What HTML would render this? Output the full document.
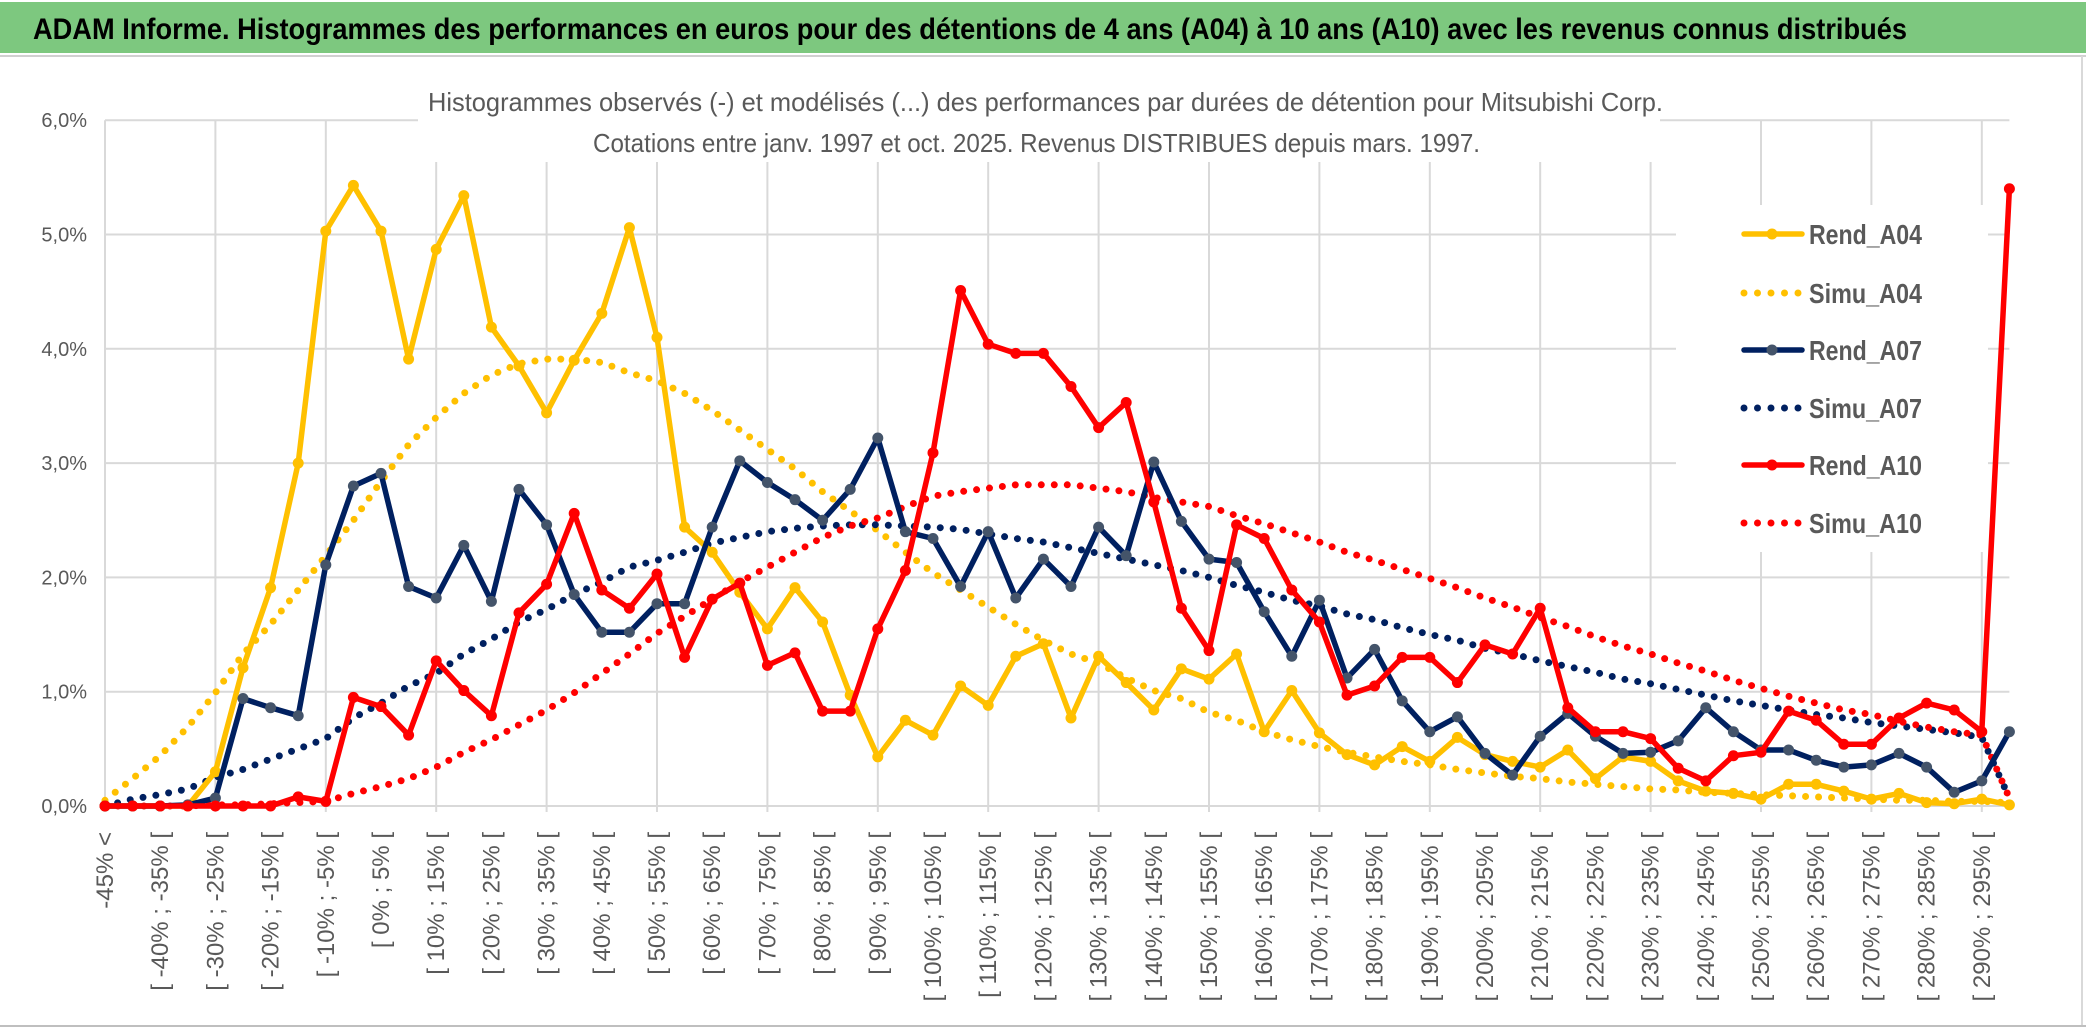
<!DOCTYPE html>
<html><head><meta charset="utf-8"><style>
html,body{margin:0;padding:0;background:#fff;width:2086px;height:1033px;overflow:hidden}
svg text{font-family:"Liberation Sans Narrow","Liberation Sans",sans-serif}
</style></head><body>
<svg id="chart" width="2086" height="1033" xmlns="http://www.w3.org/2000/svg">
<rect x="0" y="2" width="2086" height="51" fill="#7dc87f"/>
<line x1="0" y1="56" x2="2086" y2="56" stroke="#d0d0d0" stroke-width="2"/>
<text x="33" y="39" font-size="30" font-weight="bold" fill="#000" textLength="1874" lengthAdjust="spacingAndGlyphs">ADAM Informe. Histogrammes des performances en euros pour des détentions de 4 ans (A04) à 10 ans (A10) avec les revenus connus distribués</text>
<line x1="2082" y1="56" x2="2082" y2="1026" stroke="#d9d9d9" stroke-width="2"/>
<line x1="0" y1="1026" x2="2086" y2="1026" stroke="#bfbfbf" stroke-width="2"/>
<g id="grid"></g>
<rect x="418" y="84" width="1242" height="78" fill="#fff"/>
<text x="428" y="111" font-size="26" fill="#595959" textLength="1235" lengthAdjust="spacingAndGlyphs">Histogrammes observés (-) et modélisés (...) des performances par durées de détention pour Mitsubishi Corp.</text>
<text x="593" y="152" font-size="26" fill="#595959" textLength="887" lengthAdjust="spacingAndGlyphs">Cotations entre janv. 1997 et oct. 2025. Revenus DISTRIBUES depuis mars. 1997.</text>
<rect x="1676" y="205" width="312" height="347" fill="#fff"/>
<g id="ylabels"></g>
<g id="xlabels"></g>
<g id="series"></g>
<g id="legend"></g>
</svg>
<script>
const categories = (function(){const c=["-45% <"];for(let v=-45;v<300;v+=5)c.push("[ "+v+"% ; "+(v+5)+"% [");return c;})();
const yTicks = [0,1,2,3,4,5,6];
const yTickLabels = ["0,0%","1,0%","2,0%","3,0%","4,0%","5,0%","6,0%"];
const rendA04 = [0,0,0,0,0.30,1.21,1.91,3.0,5.03,5.43,5.03,3.91,4.87,5.34,4.19,3.85,3.44,3.9,4.31,5.06,4.10,2.44,2.22,1.87,1.55,1.91,1.61,0.97,0.43,0.75,0.62,1.05,0.88,1.31,1.42,0.77,1.31,1.08,0.84,1.20,1.11,1.33,0.65,1.01,0.64,0.45,0.36,0.52,0.39,0.60,0.45,0.39,0.34,0.49,0.24,0.43,0.39,0.22,0.13,0.11,0.06,0.19,0.19,0.13,0.06,0.11,0.03,0.02,0.06,0.01];
const simuA04 = [0.05,0.24,0.44,0.69,0.99,1.33,1.59,1.89,2.19,2.50,2.84,3.16,3.40,3.61,3.77,3.87,3.91,3.91,3.88,3.79,3.72,3.61,3.46,3.29,3.12,2.95,2.75,2.58,2.41,2.22,2.04,1.89,1.74,1.59,1.45,1.33,1.25,1.12,1.01,0.94,0.82,0.75,0.65,0.58,0.52,0.47,0.43,0.39,0.36,0.32,0.29,0.26,0.24,0.21,0.19,0.17,0.15,0.14,0.12,0.11,0.10,0.09,0.08,0.07,0.06,0.05,0.05,0.04,0.04,0.03];
const rendA07 = [0,0,0,0.01,0.07,0.94,0.86,0.79,2.11,2.80,2.91,1.92,1.82,2.28,1.79,2.77,2.46,1.85,1.52,1.52,1.77,1.77,2.44,3.02,2.83,2.68,2.50,2.77,3.22,2.40,2.34,1.92,2.40,1.82,2.16,1.92,2.44,2.19,3.01,2.49,2.16,2.13,1.70,1.31,1.80,1.12,1.37,0.92,0.65,0.78,0.46,0.27,0.61,0.81,0.61,0.46,0.47,0.57,0.86,0.65,0.49,0.49,0.40,0.34,0.36,0.46,0.34,0.12,0.22,0.65];
const simuA07 = [0.0,0.06,0.10,0.15,0.25,0.32,0.41,0.50,0.59,0.77,0.90,1.05,1.16,1.33,1.46,1.61,1.72,1.85,1.96,2.09,2.15,2.22,2.30,2.35,2.40,2.43,2.45,2.46,2.46,2.45,2.44,2.42,2.38,2.34,2.31,2.26,2.21,2.16,2.11,2.06,2.00,1.93,1.87,1.80,1.75,1.68,1.63,1.56,1.50,1.45,1.38,1.33,1.27,1.22,1.17,1.11,1.07,1.02,0.97,0.92,0.88,0.84,0.80,0.77,0.73,0.70,0.67,0.64,0.60,0.07];
const rendA10 = [0,0,0,0,0,0,0,0.08,0.04,0.95,0.87,0.62,1.27,1.01,0.79,1.69,1.94,2.56,1.89,1.73,2.03,1.30,1.81,1.95,1.23,1.34,0.83,0.83,1.55,2.06,3.09,4.51,4.04,3.96,3.96,3.67,3.31,3.53,2.66,1.73,1.36,2.46,2.34,1.89,1.61,0.97,1.05,1.30,1.30,1.08,1.41,1.33,1.73,0.86,0.65,0.65,0.59,0.33,0.22,0.44,0.47,0.83,0.75,0.54,0.54,0.77,0.90,0.84,0.65,5.40];
const simuA10 = [0,0,0,0,0.01,0.01,0.02,0.03,0.04,0.11,0.17,0.24,0.34,0.47,0.58,0.71,0.84,0.99,1.16,1.33,1.51,1.66,1.81,1.96,2.09,2.22,2.35,2.45,2.52,2.62,2.71,2.75,2.78,2.81,2.81,2.81,2.78,2.75,2.70,2.66,2.62,2.54,2.47,2.39,2.31,2.22,2.15,2.07,1.99,1.91,1.82,1.74,1.65,1.57,1.48,1.40,1.33,1.25,1.18,1.10,1.03,0.96,0.90,0.84,0.80,0.74,0.69,0.65,0.62,0.07];

const NS="http://www.w3.org/2000/svg";
const X0=105, DX=27.6, Y0=806, DY=114.3;
function xs(i){return X0+DX*i;}
function ys(v){return Y0-DY*v;}
function mk(tag,attrs,parent){const e=document.createElementNS(NS,tag);for(const k in attrs)e.setAttribute(k,attrs[k]);parent.appendChild(e);return e;}

const grid=document.getElementById('grid');
const xEnd=xs(categories.length-1);
yTicks.forEach((t,k)=>{
  const l=mk('line',{x1:X0,x2:xEnd,y1:ys(t),y2:ys(t),stroke:'#d9d9d9','stroke-width':2},grid);
  
  
  const tx=mk('text',{x:87,y:ys(t)+7,'font-size':20,fill:'#595959','text-anchor':'end'},document.getElementById('ylabels'));
  tx.textContent=yTickLabels[k];
  
  
});
for(let i=0;i<categories.length;i+=4){
  const l=mk('line',{x1:xs(i),x2:xs(i),y1:ys(6),y2:Y0+6,stroke:'#d9d9d9','stroke-width':2},grid);
  
  
}
const xl=document.getElementById('xlabels');
for(let i=0;i<categories.length;i+=2){
  const t=mk('text',{transform:`translate(${xs(i)+8},832) rotate(-90)`,'font-size':24,fill:'#595959','text-anchor':'end'},xl);
  t.textContent=categories[i];
  
  
}
const sg=document.getElementById('series');
function pts(arr){return arr.map((v,i)=>xs(i).toFixed(1)+','+ys(v).toFixed(1)).join(' ');}
function dotted(arr,color,name){
  const p=mk('polyline',{points:pts(arr),fill:'none',stroke:color,'stroke-width':7,'stroke-linecap':'round','stroke-dasharray':'0 13'},sg);
  
  
}
function solid(arr,color,mcolor,name){
  const g=mk('g',{},sg);
  
  
  mk('polyline',{points:pts(arr),fill:'none',stroke:color,'stroke-width':5.5,'stroke-linejoin':'round'},g);
  arr.forEach((v,i)=>{
    const c=mk('circle',{cx:xs(i),cy:ys(v),r:5.5,fill:mcolor},g);
    
    
  });
}
dotted(simuA04,'#ffc000','simu-a04-line');
dotted(simuA07,'#002060','simu-a07-line');
dotted(simuA10,'#ff0000','simu-a10-line');
solid(rendA04,'#ffc000','#ffc000','rend-a04-line');
solid(rendA07,'#002060','#44546a','rend-a07-line');
solid(rendA10,'#ff0000','#ff0000','rend-a10-line');

const lg=document.getElementById('legend');
const items=[["Rend_A04","#ffc000","#ffc000",false],["Simu_A04","#ffc000","",true],["Rend_A07","#002060","#44546a",false],["Simu_A07","#002060","",true],["Rend_A10","#ff0000","#ff0000",false],["Simu_A10","#ff0000","",true]];
const ly=[234,293,350,408,465,523];
items.forEach((it,k)=>{
  const g=mk('g',{},lg);
  
  
  if(it[3]){
    mk('line',{x1:1744,x2:1803,y1:ly[k],y2:ly[k],stroke:it[1],'stroke-width':7,'stroke-linecap':'round','stroke-dasharray':'0 13.5'},g);
  } else {
    mk('line',{x1:1744,x2:1802,y1:ly[k],y2:ly[k],stroke:it[1],'stroke-width':5.5,'stroke-linecap':'round'},g);
    mk('circle',{cx:1772,cy:ly[k],r:5.5,fill:it[2]},g);
  }
  const t=mk('text',{x:1809,y:ly[k]+10,'font-size':28,'font-weight':'bold',fill:'#595959',textLength:113,lengthAdjust:'spacingAndGlyphs'},g);
  t.textContent=it[0];
});
</script>
</body></html>
